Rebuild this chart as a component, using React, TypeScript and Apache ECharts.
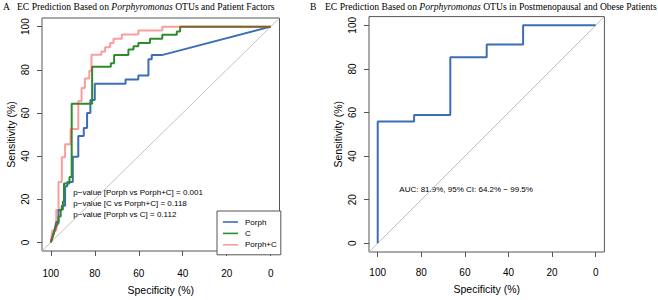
import React, { useEffect, useRef } from "react";
import * as echarts from "echarts";

// ---- Data (specificity %, sensitivity %) ----
const tickValues = [0, 20, 40, 60, 80, 100];
const seriesNames = ["Porph", "C", "Porph+C"];

const porphSpec = [100, 98.5, 97.5, 96.5, 96.5, 95, 95, 93.5, 93.5, 92.5, 92.5, 90, 90, 87.5, 87.5, 85, 85, 83.5, 83.5, 82, 82, 80, 80, 66, 66, 60.2, 60.2, 55.6, 55.6, 54.1, 54.1, 49.5, 0];
const porphSens = [0, 5, 9.5, 9.5, 15, 15, 17, 17, 26, 26, 28, 28, 39.7, 39.7, 49.3, 49.3, 53, 53, 60, 60, 66, 66, 73.5, 73.5, 75.5, 75.5, 77.3, 77.3, 84.9, 84.9, 86.8, 86.8, 100];

const cSpec = [100, 97.5, 96.5, 96.5, 95.5, 95.5, 94.5, 94.5, 94, 94, 91.5, 91.5, 90.5, 90.5, 81.2, 81.2, 72.7, 72.7, 71.2, 71.2, 64.7, 64.7, 62.4, 62.4, 60.2, 60.2, 54.9, 54.9, 49.3, 49.3, 42.7, 42.7, 41.2, 41.2, 0];
const cSens = [0, 7.5, 9, 12, 12, 15.2, 15.2, 19, 19, 27.3, 27.3, 30.3, 30.3, 64.2, 64.2, 81.4, 81.4, 83, 83, 86.8, 86.8, 89.4, 89.4, 90.9, 90.9, 92.4, 92.4, 94.4, 94.4, 96.2, 96.2, 97.7, 97.7, 100, 100];

const pcSpec = [100, 99.3, 97.5, 97.5, 96.5, 96.5, 95, 95, 93.5, 93.5, 91, 91, 87.5, 87.5, 86, 86, 84.5, 84.5, 82.5, 82.5, 81.5, 81.5, 77, 77, 75.3, 75.3, 73, 73, 71.5, 71.5, 67.7, 67.7, 60.2, 60.2, 49.3, 49.3, 0];
const pcSens = [0, 5.5, 5.5, 15, 15, 28, 28, 39.5, 39.5, 45.5, 45.5, 52.5, 52.5, 65.5, 65.5, 71.5, 71.5, 76, 76, 79.5, 79.5, 87, 87, 88.5, 88.5, 90.5, 90.5, 92.4, 92.4, 94.4, 94.4, 96.4, 96.4, 98.2, 98.2, 100, 100];

const subsetSpec = [100, 100, 83.3, 83.3, 66.7, 66.7, 50, 50, 33.3, 33.3, 0];
const subsetSens = [0, 55.9, 55.9, 58.8, 58.8, 85.3, 85.3, 91.2, 91.2, 100, 100];

const chanceSpec = [104, -4];
const chanceSens = [-4, 104];

const pValueLines = [
  "p\u2212value [Porph vs Porph+C] = 0.001",
  "p\u2212value [C vs Porph+C] = 0.118",
  "p\u2212value [Porph vs C] = 0.112",
];
const aucText = "AUC: 81.9%, 95% CI: 64.2% \u2212 99.5%";

const zip = (xs: number[], ys: number[]) => xs.map((x, i) => [x, ys[i]]);

const SANS = '"Liberation Sans", Arial, sans-serif';
const SERIF = '"Liberation Serif", "Times New Roman", serif';
const BOX = "#555";
const BLUE = "#3D6DB5";
const GREEN = "#2E8B2E";
const PINK = "rgba(240,40,40,0.45)";

const mkX = (gridIndex: number, margin: number, nameGap: number) => ({
  type: "value",
  gridIndex,
  min: -4,
  max: 104,
  inverse: true,
  axisLine: { show: false, onZero: false },
  splitLine: { show: false },
  axisTick: { show: true, length: 5, customValues: tickValues, lineStyle: { color: BOX } },
  axisLabel: { customValues: tickValues, margin, fontSize: 10, color: "#000", fontFamily: SANS },
  name: "Specificity (%)",
  nameLocation: "middle",
  nameGap,
  nameTextStyle: { fontSize: 10.5, color: "#000", fontFamily: SANS },
});

const mkY = (gridIndex: number, margin: number, nameGap: number) => ({
  type: "value",
  gridIndex,
  min: -4,
  max: 104,
  axisLine: { show: false, onZero: false },
  splitLine: { show: false },
  axisTick: { show: true, length: 5, customValues: tickValues, lineStyle: { color: BOX } },
  axisLabel: { customValues: tickValues, margin, rotate: 90, fontSize: 10, color: "#000", fontFamily: SANS },
  name: "Sensitivity (%)",
  nameLocation: "middle",
  nameGap,
  nameRotate: 90,
  nameTextStyle: { fontSize: 10.5, color: "#000", fontFamily: SANS },
});

const lineSeries = (name: string, xi: number, data: number[][], color: string, width = 2) => ({
  name,
  type: "line",
  xAxisIndex: xi,
  yAxisIndex: xi,
  data,
  symbol: "none",
  showSymbol: false,
  clip: true,
  lineStyle: { color, width },
  itemStyle: { color },
});

const titleStyle = {
  fontFamily: SERIF,
  fontSize: 9.6,
  fontWeight: "normal",
  color: "#000",
  rich: { i: { fontFamily: SERIF, fontSize: 9.6, fontStyle: "italic", color: "#000" } },
};

export default function App() {
  const ref = useRef<HTMLDivElement>(null);
  useEffect(() => {
    document.body.style.margin = "0";
    const chart = echarts.init(ref.current!, null, { renderer: "svg" });
    const option: any = {
      animation: false,
      backgroundColor: "#fff",
      title: [
        { text: "A", left: 3, top: 1, padding: 0, textStyle: titleStyle },
        { text: "EC Prediction Based on {i|Porphyromonas} OTUs and Patient Factors", left: 17, top: 1, padding: 0, textStyle: titleStyle },
        { text: "B", left: 310, top: 1, padding: 0, textStyle: titleStyle },
        { text: "EC Prediction Based on {i|Porphyromonas} OTUs in Postmenopausal and Obese Patients", left: 325, top: 1, padding: 0, textStyle: titleStyle },
      ],
      grid: [
        { left: 42, right: 378.5, top: 18, bottom: 44.5, show: true, borderColor: BOX, borderWidth: 1, backgroundColor: "transparent" },
        { left: 369, right: 53.6, top: 16.6, bottom: 48, show: true, borderColor: BOX, borderWidth: 1, backgroundColor: "transparent" },
      ],
      xAxis: [mkX(0, 17, 33), mkX(1, 15, 31)],
      yAxis: [mkY(0, 12, 26), mkY(1, 12, 26)],
      legend: {
        data: seriesNames,
        orient: "vertical",
        left: 217,
        top: 211,
        padding: [7, 4, 6, 6],
        itemGap: 3.4,
        icon: "rect",
        itemWidth: 15,
        itemHeight: 1.6,
        borderColor: BOX,
        borderWidth: 1,
        borderRadius: 0,
        backgroundColor: "#fff",
        textStyle: { fontSize: 8, color: "#000", fontFamily: SANS, padding: [0, 0, 0, 2] },
      },
      series: [
        lineSeries("chanceA", 0, zip(chanceSpec, chanceSens), "#B4B4B4", 0.8),
        lineSeries("Porph", 0, zip(porphSpec, porphSens), BLUE),
        lineSeries("C", 0, zip(cSpec, cSens), GREEN),
        lineSeries("Porph+C", 0, zip(pcSpec, pcSens), PINK),
        lineSeries("chanceB", 1, zip(chanceSpec, chanceSens), "#B4B4B4", 0.8),
        lineSeries("Porph subset", 1, zip(subsetSpec, subsetSens), BLUE),
      ],
      graphic: [
        ...pValueLines.map((t, i) => ({
          type: "text",
          x: 73.3,
          y: 192.7 + i * 11,
          style: { text: t, fontSize: 8, fontFamily: SANS, fill: "#000", align: "left", verticalAlign: "middle" },
        })),
        {
          type: "text",
          x: 399.3,
          y: 189.3,
          style: { text: aucText, fontSize: 8, fontFamily: SANS, fill: "#000", align: "left", verticalAlign: "middle" },
        },
      ],
    };
    chart.setOption(option);
    return () => chart.dispose();
  }, []);
  return <div ref={ref} style={{ width: 658, height: 300 }} />;
}
